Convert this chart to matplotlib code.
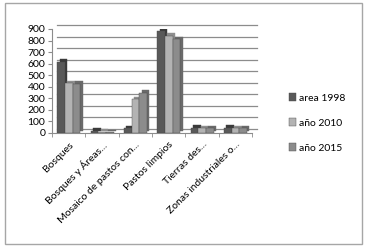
import matplotlib.pyplot as plt
import matplotlib.transforms as mtransforms
from matplotlib.patches import Rectangle
import numpy as np

plt.rcParams['font.family'] = ['Lato', 'DejaVu Sans']

categories = ["Bosques", "Bosques y Áreas...", "Mosaico de pastos con...",
              "Pastos limpios", "Tierras des...", "Zonas industriales o..."]
area_1998 = [615, 20, 40, 880, 45, 45]
ano_2010 = [430, 10, 290, 840, 40, 40]
ano_2015 = [425, 5, 350, 810, 40, 40]

series = [("area 1998", area_1998, "#595959", "#3a3a3a"),
          ("año 2010", ano_2010, "#b3b3b3", "#8f8f8f"),
          ("año 2015", ano_2015, "#8c8c8c", "#6a6a6a")]

fig = plt.figure(figsize=(3.67, 2.5), dpi=100)
fig.patches.append(Rectangle((5 / 367, 6 / 250), 357 / 367, 241 / 250,
                             transform=fig.transFigure, fill=False,
                             edgecolor="#a6a6a6", linewidth=1.0))
ax = fig.add_axes([0.142, 0.468, 0.545, 0.416])

x = np.arange(len(categories))
w = 0.23
depth = mtransforms.offset_copy(ax.transData, fig=fig, x=2.5, y=2.5, units='dots')
grid_tr = mtransforms.offset_copy(ax.get_yaxis_transform(), fig=fig, x=5, y=4, units='dots')

yt = np.arange(0, 1000, 100)
for t in yt:
    ax.plot([0, 1], [t, t], transform=grid_tr, color="#8c8c8c", lw=0.9, zorder=0, clip_on=False)

for i, (name, vals, col, side) in enumerate(series):
    pos = x + (i - 1) * w
    ax.bar(pos, vals, w, color=side, transform=depth, zorder=2 + i * 2, edgecolor=side, linewidth=0.3)
    ax.bar(pos, vals, w, color=col, label=name, zorder=3 + i * 2, edgecolor="#4a4a4a", linewidth=0.3)

ax.set_xlim(-0.5, len(categories) - 0.5)
ax.set_ylim(0, 900)
ax.set_yticks(yt)
ax.set_xticks(np.arange(len(categories) + 1) - 0.5, minor=True)
ax.set_xticks(x)
ax.set_xticklabels(categories, rotation=45, ha='right', rotation_mode='anchor', fontsize=7.5)
ax.tick_params(axis='x', which='major', length=0, pad=5)
ax.tick_params(axis='x', which='minor', length=3, color="#8c8c8c")
ax.tick_params(axis='y', labelsize=7.5, length=3, color="#8c8c8c", pad=2)
for s in ["top", "right"]:
    ax.spines[s].set_visible(False)
ax.spines["left"].set_color("#8c8c8c")
ax.spines["bottom"].set_color("#8c8c8c")

ax.legend(loc='center left', bbox_to_anchor=(1.135, 0.096), frameon=False, fontsize=7.5,
          handlelength=0.7, handleheight=0.7, handletextpad=0.3, labelspacing=1.5)

fig.savefig("out.png", dpi=100)
